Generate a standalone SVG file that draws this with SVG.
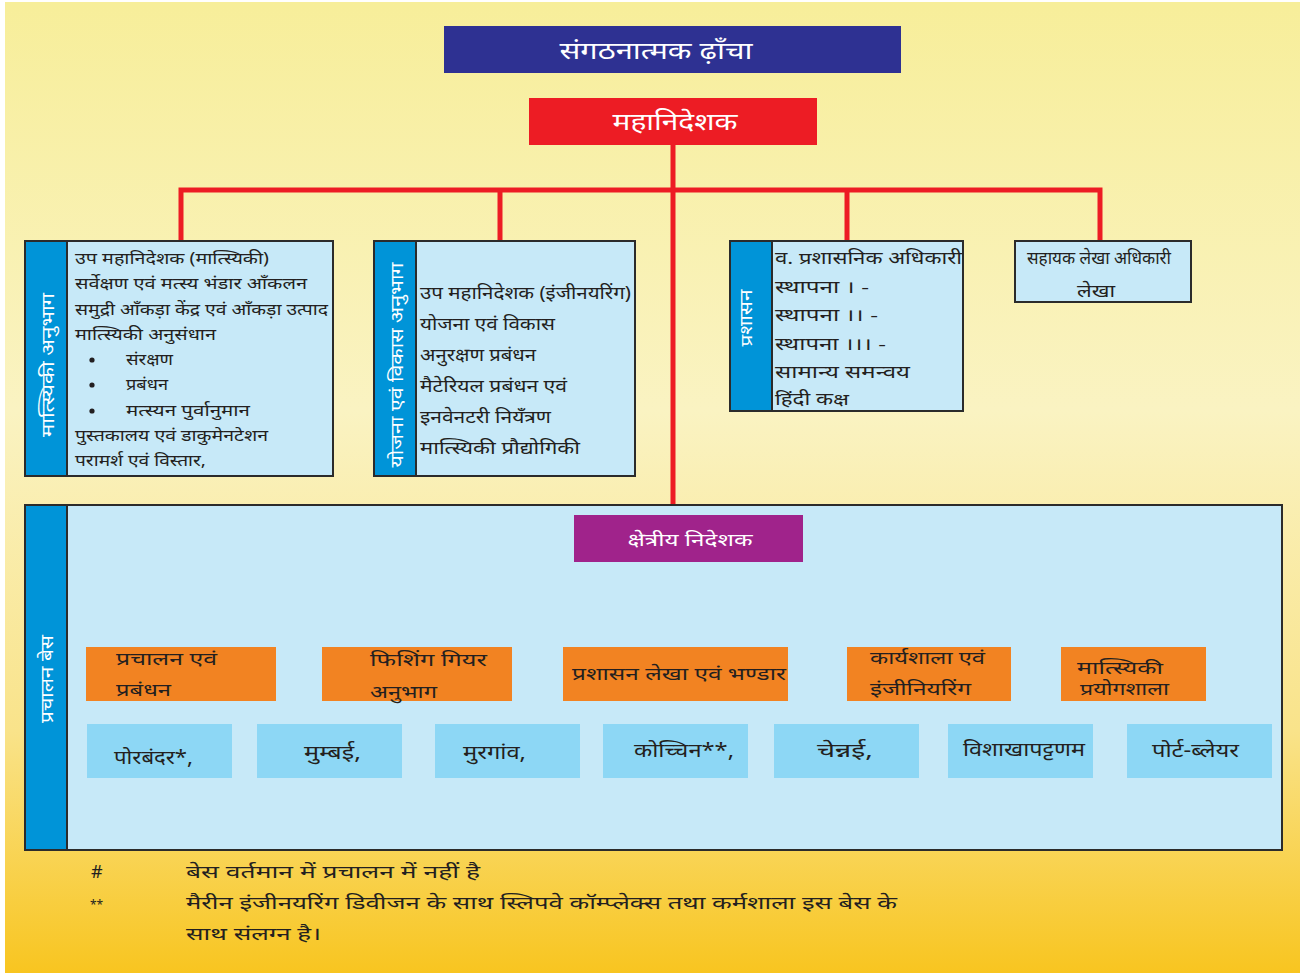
<svg xmlns="http://www.w3.org/2000/svg" width="1303" height="973" viewBox="0 0 1303 973">
<defs>
<linearGradient id="bg" x1="0" y1="0" x2="0" y2="1">
<stop offset="0" stop-color="#F7EE9A"/>
<stop offset="0.42" stop-color="#FAF3C2"/>
<stop offset="0.75" stop-color="#F9E38A"/>
<stop offset="1" stop-color="#F8C520"/>
</linearGradient>
</defs>
<style>
text{font-family:"Noto Sans","Lohit Devanagari","Noto Sans Devanagari",sans-serif;dominant-baseline:central}
.w{fill:#fff}
.k{fill:#231F20}
.panel{fill:#C7E9F8;stroke:#2B2B2B;stroke-width:2}
.strip{fill:#0094D8}
.org{fill:#F28322}
.city{fill:#8DD7F5}
.conn{fill:none;stroke:#ED1C24;stroke-width:5}
.sep{stroke:#2B2B2B;stroke-width:2}
.t1{font-size:16px}
.t2{font-size:17px}
.t3{font-size:18px}
.t4{font-size:19px}
.mid{text-anchor:middle}
</style>
<rect x="0" y="0" width="1303" height="973" fill="#fff"/>
<rect x="5" y="2" width="1295" height="971" fill="url(#bg)"/>

<g id="connectors">
<path class="conn" d="M673 145V515M181 241V190H1100V241M500 190V241M847 190V241"/>
<path class="conn" d="M673 562V645M181 647V610H1135V647M424 610V647M933 610V647"/>
</g>

<g id="title">
<rect x="444" y="26" width="457" height="47" fill="#2E3192"/>
<text class="w mid" x="656" y="49" font-size="24" textLength="193" lengthAdjust="spacingAndGlyphs">संगठनात्मक ढ़ाँचा</text>
</g>

<g id="dg">
<rect x="529" y="98" width="288" height="47" fill="#ED1C24"/>
<text class="w mid" x="675" y="120" font-size="24" textLength="125" lengthAdjust="spacingAndGlyphs">महानिदेशक</text>
</g>

<g id="fisheries">
<rect class="panel" x="25" y="241" width="308" height="235"/>
<rect class="strip" x="26" y="242" width="41" height="233"/>
<line class="sep" x1="67" y1="241" x2="67" y2="476"/>
<text class="w mid t3" transform="translate(47 365) rotate(-90)" textLength="144" lengthAdjust="spacingAndGlyphs">मात्स्यिकी अनुभाग</text>
<text class="k t1" x="75" y="258" textLength="194" lengthAdjust="spacingAndGlyphs">उप महानिदेशक (मात्स्यिकी)</text>
<text class="k t1" x="75" y="283" textLength="232" lengthAdjust="spacingAndGlyphs">सर्वेक्षण एवं मत्स्य भंडार आँकलन</text>
<text class="k t1" x="75" y="309" textLength="253" lengthAdjust="spacingAndGlyphs">समुद्री आँकड़ा केंद्र एवं आँकड़ा उत्पाद</text>
<text class="k t1" x="75" y="334" textLength="141" lengthAdjust="spacingAndGlyphs">मात्स्यिकी अनुसंधान</text>
<circle class="k" cx="92" cy="360" r="2.6"/>
<text class="k t1" x="126" y="359" textLength="47" lengthAdjust="spacingAndGlyphs">संरक्षण</text>
<circle class="k" cx="92" cy="385" r="2.6"/>
<text class="k t1" x="126" y="384" textLength="42" lengthAdjust="spacingAndGlyphs">प्रबंधन</text>
<circle class="k" cx="92" cy="411" r="2.6"/>
<text class="k t1" x="126" y="410" textLength="124" lengthAdjust="spacingAndGlyphs">मत्स्यन पुर्वानुमान</text>
<text class="k t1" x="75" y="435" textLength="193" lengthAdjust="spacingAndGlyphs">पुस्तकालय एवं डाकुमेनटेशन</text>
<text class="k t1" x="75" y="460" textLength="131" lengthAdjust="spacingAndGlyphs">परामर्श एवं विस्तार,</text>
</g>

<g id="planning">
<rect class="panel" x="374" y="241" width="261" height="235"/>
<rect class="strip" x="375" y="242" width="41" height="233"/>
<line class="sep" x1="416" y1="241" x2="416" y2="476"/>
<text class="w mid t3" transform="translate(396 365) rotate(-90)" textLength="205" lengthAdjust="spacingAndGlyphs">योजना एवं विकास अनुभाग</text>
<text class="k t3" x="420" y="292" textLength="211" lengthAdjust="spacingAndGlyphs">उप महानिदेशक (इंजीनयरिंग)</text>
<text class="k t3" x="420" y="323" textLength="135" lengthAdjust="spacingAndGlyphs">योजना एवं विकास</text>
<text class="k t3" x="420" y="354" textLength="116" lengthAdjust="spacingAndGlyphs">अनुरक्षण प्रबंधन</text>
<text class="k t3" x="420" y="385" textLength="147" lengthAdjust="spacingAndGlyphs">मैटेरियल प्रबंधन एवं</text>
<text class="k t3" x="420" y="416" textLength="131" lengthAdjust="spacingAndGlyphs">इनवेनटरी नियँत्रण</text>
<text class="k t3" x="420" y="447" textLength="160" lengthAdjust="spacingAndGlyphs">मात्स्यिकी प्रौद्योगिकी</text>
</g>

<g id="admin">
<rect class="panel" x="730" y="241" width="233" height="170"/>
<rect class="strip" x="731" y="242" width="41" height="168"/>
<line class="sep" x1="772" y1="241" x2="772" y2="411"/>
<text class="w mid t2" transform="translate(745 318) rotate(-90)" textLength="57" lengthAdjust="spacingAndGlyphs">प्रशासन</text>
<text class="k t2" x="775" y="257" textLength="187" lengthAdjust="spacingAndGlyphs">व. प्रशासनिक अधिकारी</text>
<text class="k t2" x="775" y="286" textLength="94" lengthAdjust="spacingAndGlyphs">स्थापना । -</text>
<text class="k t2" x="775" y="314" textLength="103" lengthAdjust="spacingAndGlyphs">स्थापना ।। -</text>
<text class="k t2" x="775" y="343" textLength="111" lengthAdjust="spacingAndGlyphs">स्थापना ।।। -</text>
<text class="k t2" x="775" y="371" textLength="135" lengthAdjust="spacingAndGlyphs">सामान्य समन्वय</text>
<text class="k t2" x="775" y="398" textLength="74" lengthAdjust="spacingAndGlyphs">हिंदी कक्ष</text>
</g>

<g id="accounts">
<rect class="panel" x="1015" y="241" width="176" height="61"/>
<text class="k mid t2" x="1099" y="257" textLength="144" lengthAdjust="spacingAndGlyphs">सहायक लेखा अधिकारी</text>
<text class="k mid t3" x="1096" y="290" textLength="38" lengthAdjust="spacingAndGlyphs">लेखा</text>
</g>

<g id="bases">
<rect class="panel" x="25" y="505" width="1257" height="345"/>
<rect class="strip" x="26" y="506" width="41" height="343"/>
<line class="sep" x1="67" y1="505" x2="67" y2="850"/>
<text class="w mid t3" transform="translate(46 679) rotate(-90)" textLength="88" lengthAdjust="spacingAndGlyphs">प्रचालन बेस</text>
</g>

<g id="regional">
<rect x="574" y="515" width="229" height="47" fill="#A0238B"/>
<text class="w mid t3" x="690" y="539" textLength="125" lengthAdjust="spacingAndGlyphs">क्षेत्रीय निदेशक</text>
</g>

<g id="ops">
<rect class="org" x="86" y="647" width="190" height="54"/>
<text class="k t3" x="116" y="658" textLength="101" lengthAdjust="spacingAndGlyphs">प्रचालन एवं</text>
<text class="k t3" x="116" y="689" textLength="55" lengthAdjust="spacingAndGlyphs">प्रबंधन</text>
</g>
<g id="gear">
<rect class="org" x="322" y="647" width="190" height="54"/>
<text class="k t3" x="370" y="659" textLength="117" lengthAdjust="spacingAndGlyphs">फिशिंग गियर</text>
<text class="k t3" x="370" y="691" textLength="67" lengthAdjust="spacingAndGlyphs">अनुभाग</text>
</g>
<g id="adminstores">
<rect class="org" x="563" y="647" width="225" height="54"/>
<text class="k t3" x="572" y="673" textLength="214" lengthAdjust="spacingAndGlyphs">प्रशासन लेखा एवं भण्डार</text>
</g>
<g id="workshop">
<rect class="org" x="847" y="647" width="164" height="54"/>
<text class="k t3" x="870" y="657" textLength="115" lengthAdjust="spacingAndGlyphs">कार्यशाला एवं</text>
<text class="k t3" x="870" y="688" textLength="101" lengthAdjust="spacingAndGlyphs">इंजीनियरिंग</text>
</g>
<g id="lab">
<rect class="org" x="1061" y="647" width="145" height="54"/>
<text class="k t2" x="1077" y="667" textLength="86" lengthAdjust="spacingAndGlyphs">मात्स्यिकी</text>
<text class="k t2" x="1080" y="688" textLength="89" lengthAdjust="spacingAndGlyphs">प्रयोगशाला</text>
</g>

<g id="porbandar"><rect class="city" x="87" y="724" width="145" height="54"/><text class="k t4" x="114" y="757" textLength="79" lengthAdjust="spacingAndGlyphs">पोरबंदर*,</text></g>
<g id="mumbai"><rect class="city" x="257" y="724" width="145" height="54"/><text class="k t4" x="304" y="752" textLength="57" lengthAdjust="spacingAndGlyphs">मुम्बई,</text></g>
<g id="murgaon"><rect class="city" x="435" y="724" width="145" height="54"/><text class="k t4" x="463" y="752" textLength="63" lengthAdjust="spacingAndGlyphs">मुरगांव,</text></g>
<g id="cochin"><rect class="city" x="603" y="724" width="145" height="54"/><text class="k t4" x="634" y="750" textLength="100" lengthAdjust="spacingAndGlyphs">कोच्चिन**,</text></g>
<g id="chennai"><rect class="city" x="774" y="724" width="145" height="54"/><text class="k t4" x="817" y="750" textLength="56" lengthAdjust="spacingAndGlyphs">चेन्नई,</text></g>
<g id="visakhapatnam"><rect class="city" x="948" y="724" width="145" height="54"/><text class="k t4" x="963" y="749" textLength="122" lengthAdjust="spacingAndGlyphs">विशाखापट्टणम</text></g>
<g id="portblair"><rect class="city" x="1127" y="724" width="145" height="54"/><text class="k t4" x="1152" y="750" textLength="87" lengthAdjust="spacingAndGlyphs">पोर्ट-ब्लेयर</text></g>

<g id="notes">
<text class="k t3" x="91" y="871">#</text>
<text class="k t3" x="186" y="871" textLength="294" lengthAdjust="spacingAndGlyphs">बेस वर्तमान में प्रचालन में नहीं है</text>
<text class="k" x="90" y="904" font-size="12">**</text>
<text class="k t3" x="186" y="902" textLength="711" lengthAdjust="spacingAndGlyphs">मैरीन इंजीनयरिंग डिवीजन के साथ स्लिपवे कॉम्प्लेक्स तथा कर्मशाला इस बेस के</text>
<text class="k t3" x="186" y="933" textLength="135" lengthAdjust="spacingAndGlyphs">साथ संलग्न है।</text>
</g>
</svg>
